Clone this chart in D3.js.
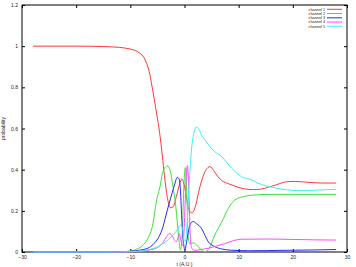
<!DOCTYPE html>
<html>
<head>
<meta charset="utf-8">
<script src="https://cdn.jsdelivr.net/npm/d3@7"></script>
<style>
  body { margin: 0; background: #fff; }
  text { font-family: "Liberation Sans", Arial, sans-serif; fill: #222; }
</style>
</head>
<body>
<svg id="chart" width="356" height="267"></svg>
<script>
// [t, probability] samples
const channel1 = [[-28,1.0],[-20,1.0],[-15,0.998],[-12,0.994],[-10,0.986],[-9,0.978],[-8.2,0.965],[-7.5,0.945],[-7,0.917],[-6.5,0.875],[-6.1,0.82],[-5.6,0.745],[-5.1,0.665],[-4.6,0.58],[-4.1,0.47],[-3.7,0.37],[-3.2,0.27],[-2.6,0.215],[-2.1,0.22],[-1.5,0.27],[-0.9,0.33],[-0.5,0.355],[-0.1,0.33],[0.4,0.26],[0.9,0.2],[1.4,0.19],[2.0,0.22],[2.6,0.29],[3.2,0.35],[4.0,0.4],[4.7,0.415],[5.4,0.395],[6.2,0.365],[7,0.345],[8.1,0.332],[9.5,0.318],[11,0.307],[12.5,0.303],[14,0.305],[15.5,0.315],[17,0.327],[18.8,0.341],[20.5,0.343],[23,0.338],[25.5,0.335],[28,0.335]];
const channel2 = [[-28,0],[-14,0],[-11,0.002],[-10,0.005],[-9,0.012],[-7.8,0.03],[-6.9,0.06],[-5.95,0.123],[-5.0,0.27],[-4.5,0.32],[-4.1,0.38],[-3.6,0.41],[-3.15,0.418],[-2.7,0.4],[-2.2,0.33],[-1.6,0.22],[-1.1,0.08],[-0.75,0.01],[-0.4,0.1],[-0.1,0.33],[0.15,0.41],[0.4,0.3],[0.7,0.07],[1.0,0.04],[1.6,0.045],[2.2,0.035],[2.9,0.015],[3.8,0.001],[4.6,0.02],[5.6,0.083],[6.9,0.147],[8.1,0.212],[9.3,0.253],[11.2,0.271],[13,0.277],[16,0.28],[28,0.28]];
const channel3 = [[-28,0],[-14,0],[-11,0.002],[-9,0.006],[-8,0.01],[-6.5,0.022],[-5.5,0.045],[-4.7,0.075],[-4,0.12],[-3.5,0.17],[-2.9,0.23],[-2.3,0.285],[-1.8,0.33],[-1.35,0.363],[-1.0,0.355],[-0.75,0.3],[-0.5,0.16],[-0.2,0.05],[0.05,0.01],[0.4,0.05],[0.8,0.11],[1.3,0.145],[1.6,0.148],[2.2,0.138],[3.2,0.112],[3.8,0.08],[4.4,0.05],[5.6,0.026],[7,0.014],[8.5,0.009],[12,0.006],[18,0.008],[24,0.01],[28,0.012]];
const channel4 = [[-28,0],[-12,0],[-9,0.002],[-7.5,0.006],[-6,0.012],[-5,0.022],[-4,0.045],[-3.3,0.075],[-2.8,0.09],[-2.3,0.08],[-1.8,0.055],[-1.5,0.05],[-1.2,0.07],[-0.95,0.09],[-0.7,0.06],[-0.35,0.03],[-0.05,0.12],[0.25,0.33],[0.55,0.42],[0.85,0.25],[1.1,0.06],[1.4,0.015],[1.9,0.008],[3,0.012],[4.4,0.018],[6,0.03],[7.4,0.04],[9,0.055],[10.5,0.062],[15,0.063],[20,0.061],[24,0.059],[28,0.058]];
const channel5 = [[-28,0],[-13,0],[-10,0.002],[-8,0.005],[-6.5,0.012],[-5,0.025],[-4,0.04],[-3,0.06],[-2,0.085],[-1.3,0.11],[-0.7,0.132],[-0.35,0.11],[-0.1,0.06],[0.15,0.05],[0.5,0.15],[0.9,0.35],[1.3,0.5],[1.7,0.575],[2.2,0.607],[2.7,0.595],[3.2,0.565],[3.8,0.544],[4.6,0.515],[5.6,0.487],[6.9,0.463],[7.8,0.435],[8.7,0.407],[9.6,0.385],[10.5,0.366],[12.4,0.35],[13.5,0.335],[15,0.322],[17,0.31],[19,0.302],[21,0.298],[24,0.3],[28,0.305]];

const names = ['channel 1', 'channel 2', 'channel 3', 'channel 4', 'channel 5'];
const colors = ['#ff3838', '#3ee03e', '#2828ff', '#ff48ff', '#3ef0f0'];
const xTicks = [-30, -20, -10, 0, 10, 20, 30];
const yTicks = [0, 0.2, 0.4, 0.6, 0.8, 1, 1.2];

const series = [channel1, channel2, channel3, channel4, channel5];

const margin = {top: 5, right: 9, bottom: 15, left: 22};
const width = 356, height = 267;

var svg = d3.select('#chart');

var x = d3.scaleLinear().domain([-30, 30]).range([margin.left, width - margin.right]);
var y = d3.scaleLinear().domain([0, 1.2]).range([height - margin.bottom, margin.top]);

// gnuplot style: ticks inward and mirrored on all sides
const tick = 3;
function styleAxis(g) {
  g.select('.domain').remove();
  g.selectAll('.tick line').attr('stroke', '#000');
  g.selectAll('.tick text').style('font-size', '5px');
}

svg.append('g')
  .attr('transform', `translate(0,${y(0)})`)
  .call(d3.axisBottom(x).tickValues(xTicks).tickSize(-tick).tickPadding(3))
  .call(styleAxis);
svg.append('g')
  .attr('transform', `translate(0,${y(1.2)})`)
  .call(d3.axisTop(x).tickValues(xTicks).tickSize(-tick).tickFormat(''))
  .call(styleAxis);
svg.append('g')
  .attr('transform', `translate(${x(-30)},0)`)
  .call(d3.axisLeft(y).tickValues(yTicks).tickSize(-tick).tickPadding(4).tickFormat(d3.format('')))
  .call(styleAxis);
svg.append('g')
  .attr('transform', `translate(${x(30)},0)`)
  .call(d3.axisRight(y).tickValues(yTicks).tickSize(-tick).tickFormat(''))
  .call(styleAxis);

svg.append('rect')
  .attr('x', x(-30)).attr('y', y(1.2))
  .attr('width', x(30) - x(-30)).attr('height', y(0) - y(1.2))
  .attr('fill', 'none').attr('stroke', '#000').attr('stroke-width', 1);

var line = d3.line()
  .x(d => x(d[0]))
  .y(d => y(d[1]))
  .curve(d3.curveMonotoneX);

svg.append('g')
  .selectAll('path')
  .data(series)
  .enter()
  .append('path')
  .attr('d', line)
  .attr('fill', 'none')
  .attr('stroke', (d, i) => colors[i])
  .attr('stroke-width', 1);

// legend
var legend = svg.append('g')
  .selectAll('g')
  .data(names)
  .enter()
  .append('g')
  .attr('transform', (d, i) => `translate(0,${9.3 + i * 4.25})`);
legend.append('text')
  .attr('x', 325)
  .attr('dy', '0.35em')
  .attr('text-anchor', 'end')
  .style('font-size', '3.8px')
  .text(d => d);
legend.append('line')
  .attr('x1', 327).attr('x2', 342)
  .attr('stroke', (d, i) => colors[i])
  .attr('stroke-width', 1);

svg.append('text')
  .attr('x', x(0)).attr('y', 265.5)
  .attr('text-anchor', 'middle')
  .style('font-size', '5px')
  .text('t (A.U.)');

svg.append('text')
  .attr('transform', `translate(5,${y(0.6)}) rotate(-90)`)
  .attr('text-anchor', 'middle')
  .style('font-size', '5px')
  .text('probability');
</script>
</body>
</html>
